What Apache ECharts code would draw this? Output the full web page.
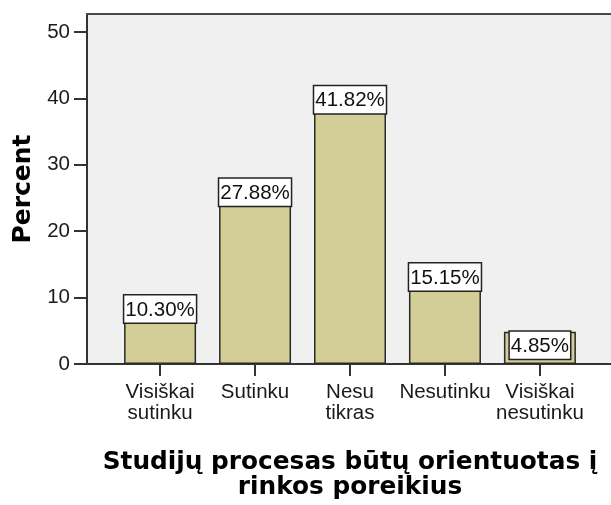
<!DOCTYPE html>
<html>
<head>
<meta charset="utf-8">
<script src="https://cdn.jsdelivr.net/npm/echarts@6/dist/echarts.min.js"></script>
<style>
  html, body { margin: 0; padding: 0; background: #ffffff; }
  #chart { width: 611px; height: 505px; }
</style>
</head>
<body>
<div id="chart"></div>
<script>
// Survey answers and their shares (percent of respondents)
const categories = ['Visiškai\nsutinku', 'Sutinku', 'Nesu\ntikras', 'Nesutinku', 'Visiškai\nnesutinku'];
const percents = [10.30, 27.88, 41.82, 15.15, 4.85];
const yTicks = [0, 10, 20, 30, 40, 50];
const yMax = 52.7;
const xTitle = 'Studijų procesas būtų orientuotas į\nrinkos poreikius';
const yTitle = 'Percent';

const frameColor = '#333333';
const tickFont = 'Liberation Sans, Arial, sans-serif';
const titleFont = 'DejaVu Sans, Verdana, sans-serif';

const chart = echarts.init(document.getElementById('chart'), null, { renderer: 'canvas' });

chart.setOption({
  animation: false,
  backgroundColor: '#ffffff',
  grid: [
    // plot frame with the grey panel
    { left: 87, right: 0, top: 14, bottom: 141, show: true, backgroundColor: '#f0f0f0', borderWidth: 0 },
    // band area holding the bars
    { left: 112.6, right: 23.6, top: 14, bottom: 141 }
  ],
  xAxis: [
    { gridIndex: 0, type: 'value', min: 0, max: 1, position: 'bottom',
      axisLine: { show: true, lineStyle: { color: frameColor, width: 2 } },
      axisTick: { show: false }, axisLabel: { show: false }, splitLine: { show: false } },
    { gridIndex: 0, type: 'value', min: 0, max: 1, position: 'top',
      axisLine: { show: true, lineStyle: { color: '#4a4a4a', width: 2 } },
      axisTick: { show: false }, axisLabel: { show: false }, splitLine: { show: false } },
    { gridIndex: 1, type: 'category', data: categories, position: 'bottom',
      axisLine: { show: false },
      axisTick: { show: true, alignWithLabel: true, length: 12, lineStyle: { color: frameColor, width: 2 } },
      axisLabel: { interval: 0, margin: 18, fontFamily: tickFont, fontSize: 20.5, lineHeight: 21, color: '#1a1a1a' },
      name: xTitle, nameLocation: 'middle', nameGap: 86,
      nameTextStyle: { fontFamily: titleFont, fontWeight: 'bold', fontSize: 24.8, lineHeight: 25, color: '#000', align: 'center' }
    }
  ],
  yAxis: [
    { gridIndex: 0, type: 'value', min: 0, max: yMax,
      axisLine: { show: true, lineStyle: { color: frameColor, width: 2 } },
      axisTick: { show: true, length: 13, customValues: yTicks, lineStyle: { color: frameColor, width: 2 } },
      axisLabel: { customValues: yTicks, margin: 17, fontFamily: tickFont, fontSize: 20.5, color: '#1a1a1a' },
      splitLine: { show: false },
      name: yTitle, nameLocation: 'middle', nameGap: 50,
      nameTextStyle: { fontFamily: titleFont, fontWeight: 'bold', fontSize: 25, color: '#000' }
    },
    { gridIndex: 1, type: 'value', min: 0, max: yMax, show: false }
  ],
  series: [{
    type: 'bar',
    xAxisIndex: 2,
    yAxisIndex: 1,
    data: percents,
    barWidth: 72,
    itemStyle: { color: '#d3ce97', borderColor: '#2a2a2a', borderWidth: 1.5 },
    label: {
      show: true,
      position: 'insideTop',
      distance: 0,
      formatter: p => p.value.toFixed(2) + '%',
      fontFamily: tickFont,
      fontSize: 20.5,
      color: '#111',
      backgroundColor: '#ffffff',
      borderColor: '#222',
      borderWidth: 1.5,
      padding: [4, 1, 2, 1]
    }
  }]
});
</script>
</body>
</html>
